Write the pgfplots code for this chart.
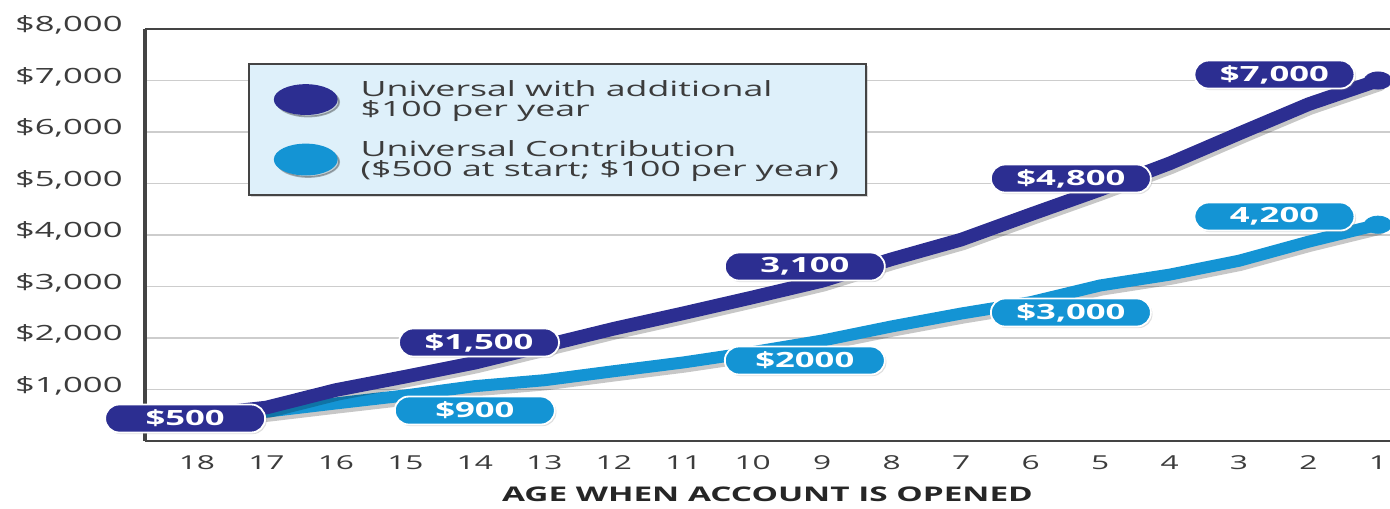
\documentclass[border=0pt]{standalone}
\usepackage{pgfplots}
\pgfplotsset{compat=1.18}
\usepackage{pgfplotstable}
\usepackage{fontspec}
\setmainfont{Open Sans}[FakeStretch=1.65]
\newfontfamily\legfont{Open Sans}[FakeStretch=1.70]
\usetikzlibrary{shadows}
\definecolor{dkblue}{RGB}{44,46,145}
\definecolor{ltblue}{RGB}{20,148,212}
\definecolor{legbg}{RGB}{222,240,250}
\definecolor{axgray}{RGB}{68,68,68}
\definecolor{txtgray}{RGB}{60,60,60}
\definecolor{gridgray}{RGB}{205,205,205}

\pgfplotstableread{
age dark light
18 500 500
17 650 570
16 990 730
15 1250 885
14 1520 1065
13 1850 1180
12 2180 1355
11 2480 1525
10 2790 1725
9 3110 1950
8 3530 2225
7 3910 2475
6 4400 2695
5 4880 3020
4 5390 3230
3 5970 3500
2 6540 3870
1 7000 4200
}\datatable

\tikzset{lbl/.style={fill=#1, draw=white, line width=0.9pt, rounded corners=7pt,
  minimum width=80pt, minimum height=14pt, inner sep=0pt, text=white,
  font=\bfseries\fontsize{10.5}{10.5}\selectfont,
  drop shadow={opacity=0.25, shadow xshift=0.8pt, shadow yshift=-0.8pt}}}

\begin{document}
\begin{tikzpicture}
\path[use as bounding box] (-72.5pt,-33.5pt) rectangle (622.5pt,220.5pt);
\begin{axis}[
  at={(0pt,0pt)}, anchor=south west,
  scale only axis, width=622.5pt, height=206pt,
  x dir=reverse,
  xmin=0.827, xmax=18.748, ymin=0, ymax=8000,
  axis line style={draw=none},
  clip=false,
  xtick={1,2,...,18},
  xticklabels={1,2,3,4,5,6,7,8,9,10,11,12,13,14,15,16,17,18},
  ytick={1000,2000,...,8000},
  yticklabels={{\$1,000},{\$2,000},{\$3,000},{\$4,000},{\$5,000},{\$6,000},{\$7,000},{\$8,000}},
  major tick length=0pt,
  ymajorgrids, grid style={gridgray, line width=0.6pt},
  xticklabel style={font=\fontsize{9.6}{10}\selectfont, text=txtgray, inner sep=0pt, anchor=north, yshift=-7pt},
  yticklabel style={font=\fontsize{10.5}{11}\selectfont, text=txtgray, inner sep=0pt, anchor=east, xshift=-11pt, yshift=2pt},
  xlabel={AGE WHEN ACCOUNT IS OPENED},
  xlabel style={font=\bfseries\fontsize{10.1}{10}\selectfont, text=black!85, at={(axis description cs:0.5,0)}, anchor=center, yshift=-26.5pt},
  legend style={
    at={(axis description cs:0.0827,0.917)}, anchor=north west,
    draw=axgray, line width=0.9pt, fill=legbg,
    font=\legfont\fontsize{10.5}{10}\selectfont, text=txtgray,
    inner xsep=12.5pt, inner ysep=6pt, row sep=6.5pt,
    cells={align=left},
    nodes={inner xsep=1pt},
    /tikz/every odd column/.append style={column sep=10.5pt},
    drop shadow={opacity=0.3, shadow xshift=1.2pt, shadow yshift=-1.2pt},
  },
  legend cell align=left,
]
\addlegendimage{legend image code/.code={\fill[dkblue] (15.5pt,0pt) ellipse [x radius=15.5pt, y radius=7.25pt];}}
\addlegendentry{Universal with additional\\\$100 per year}
\addlegendimage{legend image code/.code={\fill[ltblue] (15.5pt,0pt) ellipse [x radius=15.5pt, y radius=7.5pt];}}
\addlegendentry{Universal Contribution\\(\$500 at start; \$100 per year)}

\addplot[forget plot, ltblue, line width=6pt, line join=round, line cap=round,
  preaction={draw=black, draw opacity=0.22, line width=6.5pt, transform canvas={xshift=0.8pt, yshift=-1.8pt}}]
  table[x=age, y=light] {\datatable};
\addplot[forget plot, only marks, mark=*, mark size=4.3pt, ltblue, mark options={xscale=1.6, draw=none, fill=ltblue},
  skip coords between index={0}{17}] table[x=age, y=light] {\datatable};
\addplot[forget plot, dkblue, line width=6.8pt, line join=round, line cap=round,
  preaction={draw=black, draw opacity=0.22, line width=7pt, transform canvas={xshift=0.8pt, yshift=-1.8pt}}]
  table[x=age, y=dark] {\datatable};
\addplot[forget plot, only marks, mark=*, mark size=4.3pt, dkblue, mark options={xscale=1.6, draw=none, fill=dkblue},
  skip coords between index={0}{17}] table[x=age, y=dark] {\datatable};

\draw[axgray, line width=1.8pt] (axis description cs:0,1) -- (axis description cs:0,0);
\draw[axgray, line width=1.25pt] (axis description cs:0,0) -- (axis description cs:1.02,0);
\draw[axgray, line width=1.25pt] (axis description cs:0,1) -- (axis description cs:1.02,1);

\node[lbl=dkblue] at (axis cs:18.17,437) {\$500};
\node[lbl=dkblue] at (axis cs:13.94,1913) {\$1,500};
\node[lbl=ltblue] at (axis cs:14.0,592) {\$900};
\node[lbl=dkblue] at (axis cs:9.25,3388) {3,100};
\node[lbl=ltblue] at (axis cs:9.25,1563) {\$2000};
\node[lbl=dkblue] at (axis cs:5.42,5097) {\$4,800};
\node[lbl=ltblue] at (axis cs:5.42,2495) {\$3,000};
\node[lbl=dkblue] at (axis cs:2.49,7116) {\$7,000};
\node[lbl=ltblue] at (axis cs:2.49,4359) {4,200};
\end{axis}
\end{tikzpicture}
\end{document}
